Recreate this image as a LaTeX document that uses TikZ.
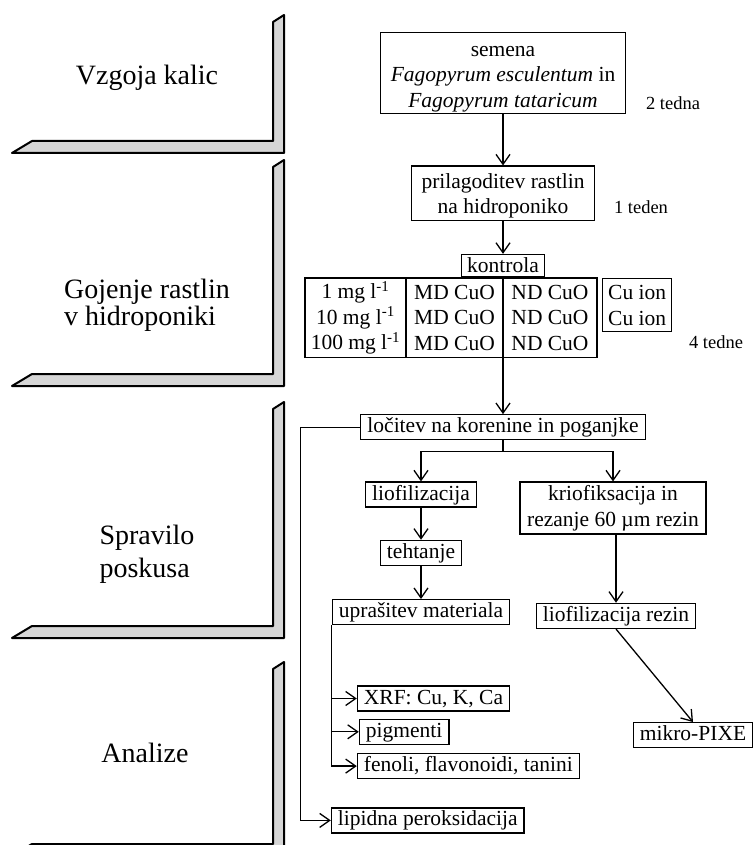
\documentclass[tikz,border=0pt]{standalone}
\usepackage{fontspec}
\setmainfont{Liberation Serif}
\usetikzlibrary{positioning, arrows.meta}

\newcommand{\boxfont}{\fontsize{21.5}{25.5}\selectfont}
\newcommand{\notefont}{\fontsize{18.5}{22}\selectfont}
\newcommand{\stagefont}{\fontsize{28}{27}\selectfont}

\tikzset{
  box/.style={draw, line width=1.3pt, inner xsep=6.5pt, inner ysep=2pt,
              text height=16pt, text depth=5pt, font=\boxfont},
  tallbox/.style={draw, line width=1.3pt, align=center, inner sep=2pt, font=\boxfont},
  col/.style={tallbox, outer sep=0pt, minimum height=79pt},
  note/.style={font=\notefont},
  stage/.style={font=\stagefont, align=left},
  bar/.style={draw, line width=2pt, line join=round, fill=black!16},
  arr/.style={line width=1.3pt, -{Straight Barb[length=10pt, width=14pt]}},
  link/.style={line width=1.3pt},
}

\begin{document}
\begin{tikzpicture}[x=1pt, y=1pt]

    \useasboundingbox (0,0) rectangle (754,-845);
    \clip (0,0) rectangle (754,-845);

    % Stage bars
    \foreach \ytop/\ybot in {15/153, 160/386, 402/638, 662/856} {
      \draw[bar] (12,-\ybot) -- (284,-\ybot) -- (284,-\ytop) -- (273,-\ytop-7)
                 -- (273,-\ybot+12) -- (32,-\ybot+12) -- cycle;
    }

    % Stage labels
    \node[stage] (grow)     at (147,-78)  {Vzgoja kalic};
    \node[stage] (hydro)    at (147,-305) {Gojenje rastlin\\v hidroponiki};
    \node[stage, font=\fontsize{28}{33}\selectfont]
                 (harvest)  at (147,-554) {Spravilo\\poskusa};
    \node[stage] (analysis) at (145,-753) {Analize};

    % Define nodes
    \node[tallbox, minimum width=245pt, minimum height=80pt] (seeds) at (503,-73)
         {\rule{0pt}{22pt}semena\\\textit{Fagopyrum esculentum} in\\\textit{Fagopyrum tataricum}};
    \node[tallbox, minimum width=183pt, minimum height=53pt, below=51pt of seeds] (adapt)
         {\rule{0pt}{20pt}prilagoditev rastlin\\na hidroponiko};
    \node[box, text depth=2pt, inner xsep=6pt, below=33pt of adapt] (control) {kontrola};

    \node[col, minimum width=97pt, anchor=north east] (md) at ([yshift=-1pt]control.south)
         {MD CuO\\MD CuO\\MD CuO};
    \node[col, minimum width=101pt, left=0pt of md] (dose)
         {1 mg l\textsuperscript{-1}\\10 mg l\textsuperscript{-1}\\100 mg l\textsuperscript{-1}};
    \node[col, minimum width=94pt, right=0pt of md] (nd) {ND CuO\\ND CuO\\ND CuO};
    \node[tallbox, minimum width=69pt, minimum height=53pt, anchor=north west] (cuion)
         at ([xshift=5pt]nd.north east) {Cu ion\\Cu ion};

    \node[note] (weeks2) at (673,-103) {2 tedna};
    \node[note] (week1)  at (641,-207) {1 teden};
    \node[note] (weeks4) at (716,-342) {4 tedne};

    \node[box, inner xsep=7pt, below=57pt of md.south east] (split) {ločitev na korenine in poganjke};
    \node[box, below=41pt of split, xshift=-82pt] (lyo) {liofilizacija};
    \node[tallbox, inner xsep=7pt, minimum height=52pt, below=41pt of split, xshift=110pt] (cryo)
         {kriofiksacija in\\rezanje 60 µm rezin};
    \node[box, below=32pt of lyo]   (weigh) {tehtanje};
    \node[box, below=33pt of weigh] (grind) {uprašitev materiala};
    \node[box, below=68pt of cryo, xshift=3pt]     (cryolyo) {liofilizacija rezin};
    \node[box, below=93pt of cryolyo, xshift=77pt] (pixe) {mikro-PIXE};

    \node[box, below=60pt of grind.south west, anchor=north west, xshift=25pt] (xrf) {XRF: Cu, K, Ca};
    \node[box, below=7pt of xrf.south west, anchor=north west, xshift=2pt]     (pigm) {pigmenti};
    \node[box, below=8pt of pigm.south west, anchor=north west, xshift=-2pt]   (phen) {fenoli, flavonoidi, tanini};
    \node[box, below=28pt of phen.south west, anchor=north west, xshift=-26pt] (lipid) {lipidna peroksidacija};

    % Connect the nodes
    \draw[arr] (seeds) -- (adapt);
    \draw[arr] (adapt) -- (control);
    \draw[arr] (md.south east) -- (split);
    \draw[link] (split.south) -- ++(0,-11pt) coordinate (fork);
    \draw[link] (fork -| lyo) -- (fork -| cryo);
    \draw[arr] (fork -| lyo) -- (lyo);
    \draw[arr] (fork -| cryo) -- (cryo);
    \draw[arr] (lyo) -- (weigh);
    \draw[arr] (weigh) -- (grind);
    \draw[arr] (grind.south west) |- (phen);
    \draw[arr] (grind.south west |- xrf) -- (xrf);
    \draw[arr] (grind.south west |- pigm) -- (pigm);
    \draw[arr] (split.west) -- ++(-59pt,0) |- (lipid);
    \draw[arr] (cryo.south -| cryolyo) -- (cryolyo);
    \draw[arr] (cryolyo.south) -- (pixe.north);

\end{tikzpicture}
\end{document}
